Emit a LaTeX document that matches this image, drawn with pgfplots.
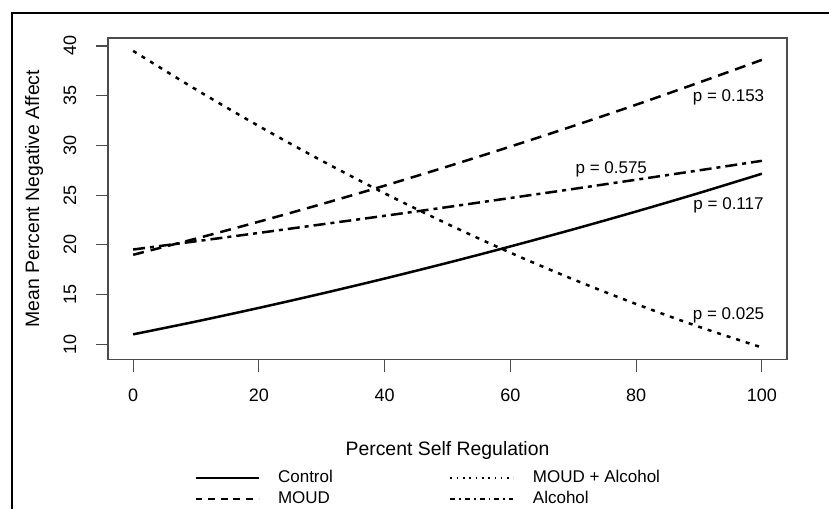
\documentclass[border=0pt]{standalone}
\usepackage{fontspec}
\setmainfont{Liberation Sans}
\usepackage{pgfplots}
\usepackage{pgfplotstable}
\pgfplotsset{compat=1.18}

\pgfplotstableread{
x y
0 11.00
10 12.29
20 13.66
30 15.10
40 16.61
50 18.19
60 19.84
70 21.56
80 23.35
90 25.21
100 27.15
}\control
\pgfplotstableread{
x y
0 19.00
10 20.63
20 22.33
30 24.10
40 25.95
50 27.88
60 29.88
70 31.95
80 34.09
90 36.32
100 38.60
}\moud
\pgfplotstableread{
x y
0 39.50
10 35.62
20 31.94
30 28.46
40 25.18
50 22.10
60 19.21
70 16.53
80 14.05
90 11.76
100 9.68
}\moudalc
\pgfplotstableread{
x y
0 19.53
10 20.36
20 21.20
30 22.06
40 22.92
50 23.80
60 24.71
70 25.62
80 26.55
90 27.49
100 28.45
}\alcohol

\begin{document}
\begin{tikzpicture}
\begin{axis}[
  at={(54pt,74.75pt)}, anchor=south west,
  scale only axis, width=339.5pt, height=160.75pt,
  xmin=-4, xmax=104, ymin=8.47, ymax=40.8,
  xtick={0,20,40,60,80,100}, ytick={10,15,20,25,30,35,40},
  tick pos=left, tick align=outside, major tick length=6pt,
  axis line style={black!70, line width=0.6pt},
  tick style={black!70, line width=0.6pt},
  /pgf/number format/assume math mode=true,
  tick label style={font=\fontsize{9}{10}\selectfont, inner sep=0pt},
  xticklabel style={anchor=center, yshift=-12pt},
  yticklabel style={xshift=-13pt, rotate=90, anchor=center},
  every axis x label/.style={at={(axis description cs:0.5,0)}, anchor=center, yshift=-45.5pt, font=\fontsize{9.7}{11}\selectfont},
  every axis y label/.style={at={(axis description cs:0,0.5)}, xshift=-37pt, rotate=90, anchor=center, font=\fontsize{9.7}{11}\selectfont},
  xlabel={Percent Self Regulation},
  ylabel={Mean Percent Negative Affect},
  legend columns=2, transpose legend,
  legend style={at={(axis description cs:0.1281,-0.3437)}, anchor=north west,
    draw=none, fill=none, inner sep=0pt, outer sep=0pt, row sep=2.5pt,
    font=\fontsize{8.5}{10}\selectfont,
    nodes={inner sep=0pt, text height=6.2pt, text depth=1.8pt},
    /tikz/every odd column/.append style={column sep=9.5pt},
    /tikz/every even column/.append style={column sep=58.5pt}},
  legend cell align=left,
  legend image code/.code={\draw[#1] (0pt,0pt) -- (31.5pt,0pt);},
]
\addplot[black, line width=1.25pt, smooth, forget plot] table[x=x,y=y] {\control};
\addplot[black, line width=1.25pt, smooth, dash pattern=on 5.5pt off 3.5pt, forget plot] table[x=x,y=y] {\moud};
\addplot[black, line width=1.25pt, smooth, dash pattern=on 2pt off 3pt, forget plot] table[x=x,y=y] {\moudalc};
\addplot[black, line width=1.25pt, smooth, dash pattern=on 6pt off 2.5pt on 2pt off 2.5pt, forget plot] table[x=x,y=y] {\alcohol};

\addlegendimage{black, line width=0.55pt}
\addlegendentry{Control}
\addlegendimage{black, line width=0.55pt, dash pattern=on 3.4pt off 2.9pt}
\addlegendentry{MOUD}
\addlegendimage{black, line width=0.55pt, dash pattern=on 0.8pt off 2.35pt}
\addlegendentry{MOUD + Alcohol}
\addlegendimage{black, line width=0.55pt, dash pattern=on 2.5pt off 2pt on 0.8pt off 2pt}
\addlegendentry{Alcohol}

\node[font=\fontsize{8.5}{10}\selectfont, inner sep=0pt] at (axis cs:94.7,34.85) {p = 0.153};
\node[font=\fontsize{8.5}{10}\selectfont, inner sep=0pt] at (axis cs:76.05,27.6) {p = 0.575};
\node[font=\fontsize{8.5}{10}\selectfont, inner sep=0pt] at (axis cs:94.7,24.0) {p = 0.117};
\node[font=\fontsize{8.5}{10}\selectfont, inner sep=0pt] at (axis cs:94.7,12.9) {p = 0.025};
\end{axis}
\draw[black, line width=0.9pt] (5.85pt,0pt) -- (5.85pt,248.15pt) -- (414.5pt,248.15pt);
\pgfresetboundingbox
\useasboundingbox (0pt,0pt) rectangle (414.5pt,254.5pt);
\end{tikzpicture}
\end{document}
